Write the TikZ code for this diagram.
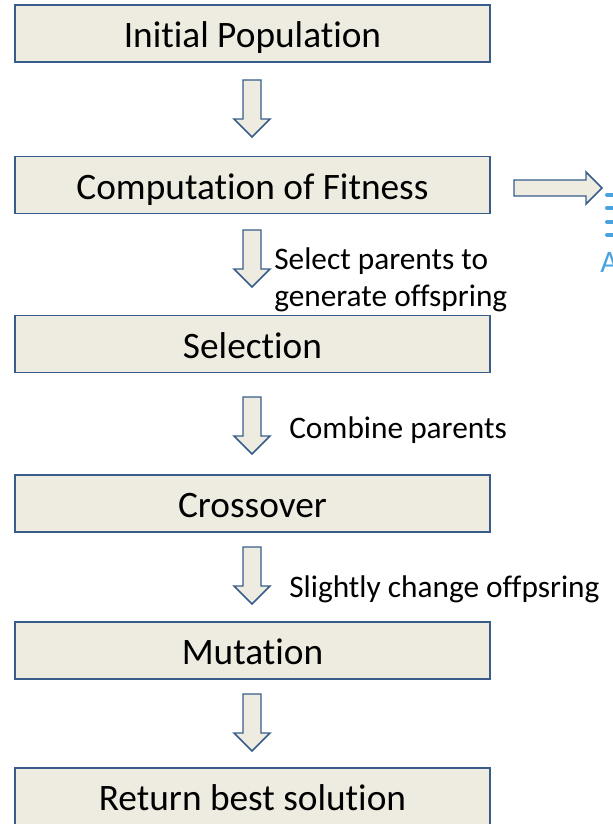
\documentclass[tikz,border=0pt]{standalone}
\usepackage{fontspec}
\setmainfont{Carlito}[Ligatures={NoCommon}]
\definecolor{boxfill}{HTML}{EEECE1}
\definecolor{boxline}{HTML}{385D8A}
\definecolor{faintblue}{HTML}{4AA3DF}
\tikzset{
  stepbox/.style={draw=boxline, fill=boxfill, line width=1.3pt, minimum width=475*0.75pt, minimum height=57*0.75pt, inner sep=0pt, font=\fontsize{28}{33}\selectfont, text height=21pt, text depth=0pt},
  blockarrow/.style={draw=boxline, fill=boxfill, line width=1.1pt, line join=miter},
  lbl/.style={anchor=west, font=\fontsize{23.5}{28}\selectfont, inner sep=0pt, align=left}
}
\newcommand\downblock[2]{% center x, top y
  \draw[blockarrow] (#1-9,#2) -- (#1+9,#2) -- (#1+9,#2+39) -- (#1+18,#2+39) -- (#1,#2+57) -- (#1-18,#2+39) -- (#1-9,#2+39) -- cycle;}
\begin{document}
\begin{tikzpicture}[x=0.75pt,y=-0.75pt]
\useasboundingbox (0,0) rectangle (613,824);
\clip (0,0) rectangle (613,824);
\node[stepbox] (init) at (252.5,33.5) {Initial Population};
\node[stepbox] (fit) at (252.5,185) {Computation of Fitness};
\node[stepbox] (sel) at (252.5,344) {Selection};
\node[stepbox] (cross) at (252.5,503.5) {Crossover};
\node[stepbox] (mut) at (252.5,650.5) {Mutation};
\node[stepbox] (ret) at (252.5,796.5) {Return best solution};
\downblock{252}{80}
\downblock{252}{230}
\downblock{252}{397}
\downblock{252}{547}
\downblock{252}{694}
\draw[blockarrow] (514,180) -- (586,180) -- (586,172) -- (602,188) -- (586,204) -- (586,196) -- (514,196) -- cycle;
\node[lbl] (l2) at (274,280) {Select parents to\\generate offspring};
\node[lbl] (l3) at (289,430) {Combine parents};
\node[lbl] (l4) at (289,589) {Slightly change offpsring};
\foreach \yy in {195,208,222,235}
  \draw[faintblue, line width=3pt, line cap=round] (607,\yy) -- (616,\yy);
\node[anchor=west, text=faintblue, font=\fontsize{23.5}{28}\selectfont, inner sep=0pt] (aa) at (600,262) {A};
\end{tikzpicture}
\end{document}
